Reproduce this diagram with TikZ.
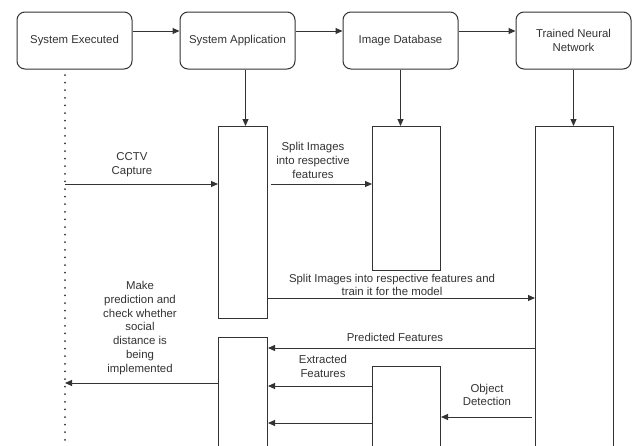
\documentclass[tikz,border=0pt]{standalone}
\usepackage{fontspec}
\setmainfont{Liberation Sans}
\usetikzlibrary{arrows.meta}
\definecolor{ink}{HTML}{333333}
\begin{document}
\begin{tikzpicture}[x=1pt,y=-1pt,
  txt/.style={text=ink, font=\fontsize{11.4}{13.7}\selectfont},
  lane/.style={txt, draw=ink, line width=1pt, rounded corners=8pt,
    minimum width=115pt, minimum height=57pt, align=center, inner sep=0pt},
  act/.style={draw=ink, line width=1pt, anchor=north west, inner sep=0pt, fill=white},
  msg/.style={draw=ink, line width=1pt, -{Triangle[length=7pt,width=6pt]}},
  lbl/.style={txt, align=center, inner sep=0pt},
  life/.style={draw=ink, line width=2pt, dash pattern=on 0pt off 7.6pt, line cap=round}]
\clip (0,0) rectangle (635,445);
\fill[white] (0,0) rectangle (635,445);

% participants
\node[lane] (E)   at (74.5,40.5)  {System Executed};
\node[lane] (SA)  at (237.5,40.5) {System Application};
\node[lane] (DB)  at (400.5,40.5) {Image Database};
\node[lane] (TNN) at (573.5,40.5) {Trained Neural\\Network};

\coordinate (top) at (0,31);
\draw[msg] (E.east |- top)  -- (SA.west |- top);
\draw[msg] (SA.east |- top) -- (DB.west |- top);
\draw[msg] (DB.east |- top) -- (TNN.west |- top);

% lifeline of the executing system
\coordinate (lt) at (65,75);
\coordinate (lb) at (65,450);
\draw[life] (lt) -- (lb);

% activation bars
\node[act, minimum width=49pt, minimum height=192pt] (A1) at (218,126) {};
\node[act, minimum width=68pt, minimum height=144pt] (A2) at (372,126) {};
\node[act, minimum width=78pt, minimum height=334pt] (A3) at (535,126) {};
\node[act, minimum width=49pt, minimum height=123pt] (A4) at (218,337) {};
\node[act, minimum width=68pt, minimum height=94pt]  (A5) at (372,366) {};

\coordinate (sadrop) at ([xshift=8pt]SA.south);
\draw[msg] (sadrop) -- (sadrop |- A1.north);
\draw[msg] (DB.south) -- (DB.south |- A2.north);
\draw[msg] (TNN.south) -- (TNN.south |- A3.north);

% messages
\coordinate (cctv) at (65,184);
\draw[msg] (cctv) -- (cctv -| A1.west);
\node[lbl] (lcctv) at (132,165) {CCTV\\Capture};

\draw[msg] ([xshift=3pt]A1.east |- cctv) -- (A2.west |- cctv);
\node[lbl] (lsplit) at (313,160.5) {Split Images\\into respective\\features};

\draw[msg] (A1.east |- 0,298) -- (A3.west |- 0,298);
\node[lbl] (ltrain) at (392,285) {Split Images into respective features and\\train it for the model};

\draw[msg] (A3.west |- 0,348) -- (A4.east |- 0,348);
\node[lbl] (lpred) at (395,337) {Predicted Features};

\draw[msg] (A5.west |- 0,386) -- (A4.east |- 0,386);
\node[lbl] (lext) at (323,366.5) {Extracted\\Features};

\draw[msg] (A5.west |- 0,423) -- (A4.east |- 0,423);

\draw[msg] ([xshift=-3pt]A3.west |- 0,417) -- (A5.east |- 0,417);
\node[lbl] (lobj) at (487,395) {Object\\Detection};

\coordinate (back) at (65,383);
\draw[msg] (A4.west |- back) -- (back);
\node[lbl] (lmake) at (140,328) {Make\\prediction and\\check whether\\social\\distance is\\being\\implemented};
\end{tikzpicture}
\end{document}
